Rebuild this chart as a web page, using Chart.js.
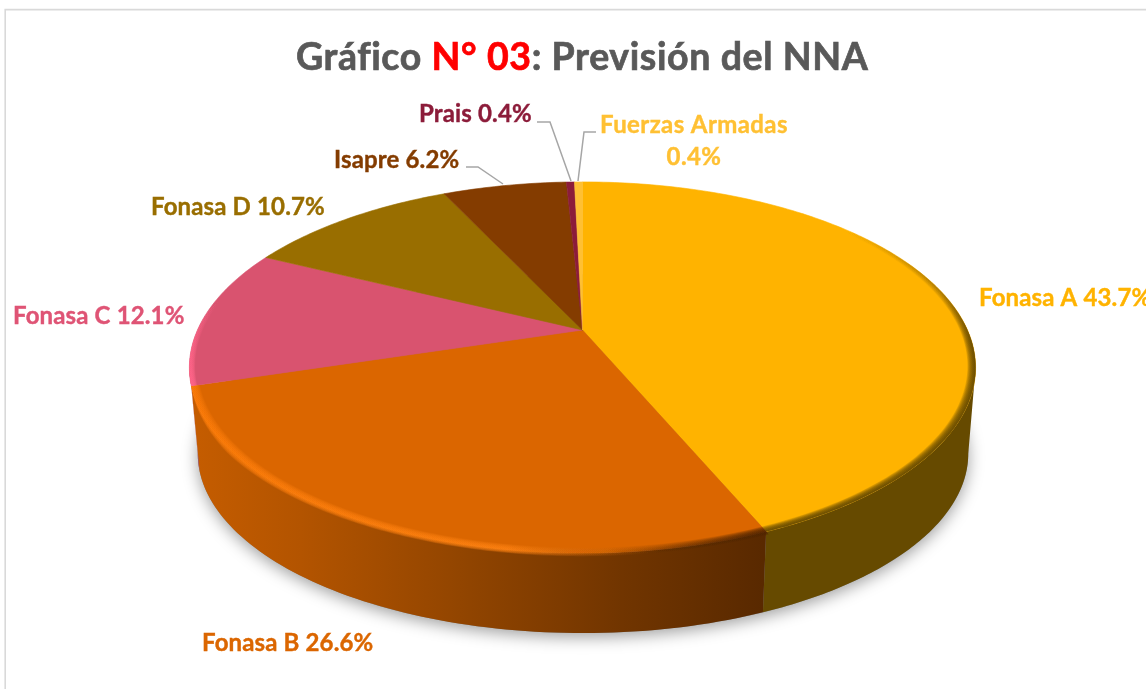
<!DOCTYPE html>
<html lang="es">
<head>
<meta charset="utf-8">
<title>Gráfico N° 03: Previsión del NNA</title>
<style>html,body{margin:0;padding:0;background:#fff}canvas{display:block}</style>
<script src="https://cdn.jsdelivr.net/npm/chart.js@4/dist/chart.umd.min.js"></script>
</head>
<body>
<canvas id="c" width="1146" height="689"></canvas>
<script>
const categories = ['Fonasa A','Fonasa B','Fonasa C','Fonasa D','Isapre','Prais','Fuerzas Armadas'];
const percentages = [43.7,26.6,12.1,10.7,6.2,0.4,0.4];
const sliceColors = ['#FFB300','#DB6600','#D9536F','#996E00','#843C00','#8C1C3A','#FFC033'];
const labelColors = ['#FFB300','#DB6600','#DF5475','#996E00','#843C00','#8C1C3A','#FFC033'];

// perspective model of the disc
const P = {cx:582.5, cy:330, a:385, b:178, k:0.202};
function rimTop(th, r=1){
  const u=r*Math.cos(th), v=r*Math.sin(th), d=1-P.k*v;
  return [P.cx+P.a*u/d, P.cy+P.b*v/d];
}
function rimLow(th){
  const [x,y]=rimTop(th);
  return [583+0.98*(x-582.5), 458+0.967*(y-372)];
}
const TANR=0.205, TANL=Math.PI-0.205;
function rng(a,b,n=80){const o=[];for(let i=0;i<=n;i++)o.push(a+(b-a)*i/n);return o;}
function poly(ctx,pts){ctx.beginPath();pts.forEach((p,i)=>i?ctx.lineTo(p[0],p[1]):ctx.moveTo(p[0],p[1]));ctx.closePath();}

// soft band on the rim of one slice; `fill` carries colour and fade, the clip keeps it inside the slice
function band(ctx,el,fill,inner,outer,layers=12){
  const a=el.startAngle,b=el.endAngle;
  ctx.save();
  poly(ctx,[[P.cx,P.cy]].concat(rng(a,b,120).map(th=>rimTop(th,1+outer+0.004))));
  ctx.clip();
  ctx.fillStyle=fill;
  const t=rng(a-0.02,b+0.02,160);
  const taper=th=>Math.max(0,Math.min(1,(b-th)/0.35));
  for(let i=1;i<=layers;i++){
    const f=i/layers;
    const out=t.map(th=>rimTop(th,1+outer*f*taper(th)));
    const inn=t.slice().reverse().map(th=>rimTop(th,1-inner*f));
    poly(ctx,out.concat(inn));ctx.fill();
  }
  ctx.restore();
}

const scene3d = {
  id:'scene3d',
  beforeDraw(chart){
    const ctx=chart.ctx;
    ctx.save();
    ctx.fillStyle='#fff';ctx.fillRect(0,0,1146,689);
    ctx.strokeStyle='#D9D9D9';ctx.lineWidth=1.6;
    ctx.beginPath();ctx.moveTo(5.2,689);ctx.lineTo(5.2,9.6);ctx.lineTo(1146,9.6);ctx.stroke();
    ctx.restore();
  },
  beforeDatasetsDraw(chart){
    const ctx=chart.ctx, arcs=chart.getDatasetMeta(0).data;
    ctx.save();
    // soft ground shadow
    ctx.save();
    ctx.shadowColor='rgba(0,0,0,0.38)';ctx.shadowBlur=16;ctx.shadowOffsetY=4;
    ctx.fillStyle='#888';
    poly(ctx,rng(0,Math.PI*2,240).map(th=>rimLow(th)));ctx.fill();
    ctx.restore();
    const sideFill=[];
    const g=ctx.createLinearGradient(199,0,763,0);
    g.addColorStop(0,'#C45C00');g.addColorStop(0.18,'#B35400');g.addColorStop(0.48,'#904400');
    g.addColorStop(0.75,'#713500');g.addColorStop(1,'#592900');
    sideFill[0]='#664A00';sideFill[1]=g;sideFill[2]='#A8415A';
    // side wall
    arcs.forEach((el,i)=>{
      const a=Math.max(el.startAngle,TANR), b=Math.min(el.endAngle,TANL);
      if(b<=a) return;
      const t=rng(a,b);
      poly(ctx,t.map(th=>rimTop(th)).concat(t.slice().reverse().map(th=>rimLow(th))));
      ctx.fillStyle=sideFill[i]||el.options.backgroundColor;ctx.fill();
    });
    // top faces
    arcs.forEach(el=>{
      const t=rng(el.startAngle,el.endAngle,Math.max(8,Math.ceil((el.endAngle-el.startAngle)*60)));
      const pts=[[P.cx,P.cy]].concat(t.map(th=>rimTop(th)));
      poly(ctx,pts);
      ctx.fillStyle=el.options.backgroundColor;ctx.fill();
      ctx.strokeStyle=el.options.backgroundColor;ctx.lineWidth=0.6;ctx.stroke();
    });
    // bevel
    const A=arcs[0],B=arcs[1],C=arcs[2];
    const ga=ctx.createLinearGradient(0,230,0,345);
    ga.addColorStop(0,'rgba(94,68,0,0)');ga.addColorStop(0.55,'rgba(94,68,0,0.06)');ga.addColorStop(1,'rgba(94,68,0,0.17)');
    band(ctx,A,ga,0.02,0);
    const gb=ctx.createLinearGradient(192,0,763,0);
    gb.addColorStop(0,'rgba(255,125,10,0.14)');gb.addColorStop(0.55,'rgba(255,130,18,0.14)');
    gb.addColorStop(0.72,'rgba(200,100,10,0.06)');gb.addColorStop(0.82,'rgba(90,42,0,0.06)');gb.addColorStop(1,'rgba(80,36,0,0.18)');
    band(ctx,B,gb,0.02,0.012);
    const gc=ctx.createLinearGradient(0,300,0,385);
    gc.addColorStop(0,'rgba(255,100,136,0)');gc.addColorStop(1,'rgba(255,100,136,0.25)');
    band(ctx,C,gc,0.014,0);
    ctx.restore();
    return false;
  },
  afterDraw(chart){
    const ctx=chart.ctx;
    const put=(s,x,y,c,w)=>{ctx.fillStyle=c;ctx.fillText(s,x,y);ctx.strokeStyle=c;ctx.lineWidth=w;ctx.strokeText(s,x,y);};
    ctx.save();
    // title
    const seg=[['Gráfico ','#595959'],['N° 03','#FF0000'],[': Previsión del NNA','#595959']];
    ctx.font='bold 37.5px Lato';ctx.letterSpacing='0.6px';ctx.textBaseline='alphabetic';ctx.textAlign='left';
    let x=296;
    seg.forEach(([s,c])=>{put(s,x,70,c,0.7);x+=ctx.measureText(s).width;});
    // leader lines
    ctx.letterSpacing='0px';
    ctx.strokeStyle='#A6A6A6';ctx.lineWidth=1.5;
    [[[466,167],[478,167],[503,184]],[[537,122],[550,122],[571,181]],[[596,132],[584,132],[578,181]]].forEach(l=>{
      ctx.beginPath();l.forEach((p,i)=>i?ctx.lineTo(p[0],p[1]):ctx.moveTo(p[0],p[1]));ctx.stroke();
    });
    // labels
    ctx.font='bold 24px Lato';ctx.letterSpacing='0.15px';
    const pos=[[979,306],[202,651],[13,324],[151,215],[334,168],[419,122]];
    pos.forEach((p,i)=>{
      put(categories[i]+' '+percentages[i].toFixed(1)+'%',p[0],p[1],labelColors[i],0.4);
    });
    ctx.letterSpacing='0.4px';
    put(categories[6],600,133,labelColors[6],0.4);
    ctx.textAlign='center';
    put(percentages[6].toFixed(1)+'%',694,165,labelColors[6],0.4);
    ctx.restore();
  }
};

new Chart(document.getElementById('c'),{
  type:'pie',
  data:{labels:categories,datasets:[{data:percentages,backgroundColor:sliceColors,borderWidth:0}]},
  options:{
    responsive:false,animation:false,
    plugins:{legend:{display:false},tooltip:{enabled:false},title:{display:false}}
  },
  plugins:[scene3d]
});
</script>
</body>
</html>
